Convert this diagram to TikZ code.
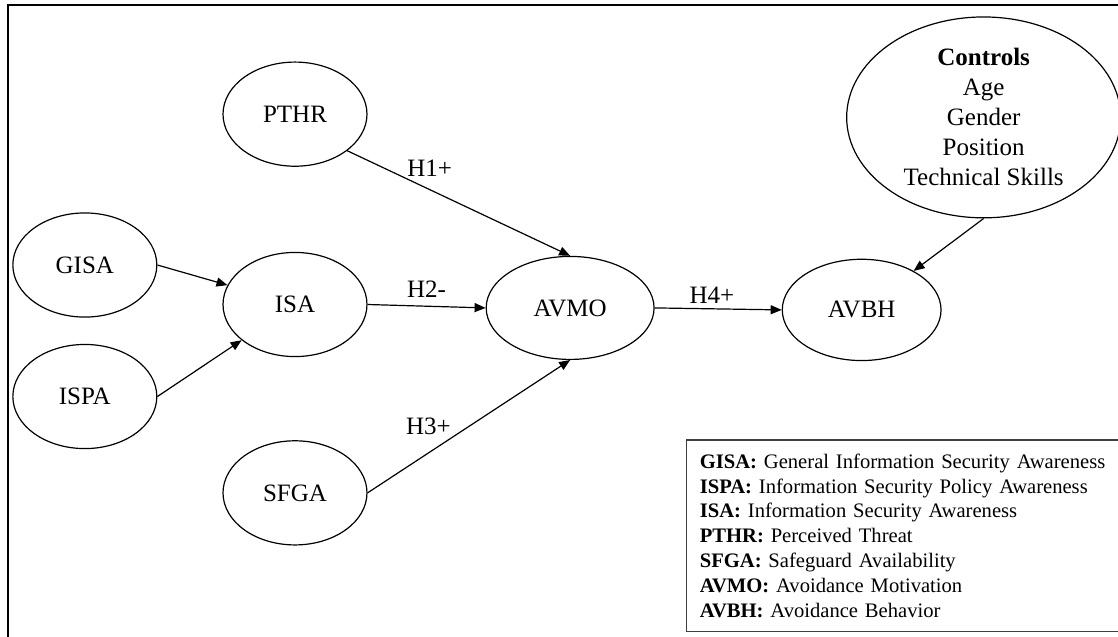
\documentclass[tikz,border=0pt]{standalone}
\usepackage{fontspec}
\setmainfont{Liberation Serif}
\usetikzlibrary{positioning, arrows.meta, shapes.geometric, calc}
\definecolor{cLine}{HTML}{000000}
\definecolor{cLegend}{HTML}{404040}
\tikzset{
  construct/.style={
    draw=cLine, ellipse, line width=0.6pt,
    minimum width=2.53cm, minimum height=1.83cm, inner sep=0pt,
    font=\fontsize{12.5}{15}\selectfont
  },
  pathlink/.style={
    -{Triangle[length=5.5pt, width=4.5pt]}, line width=0.6pt, color=cLine
  },
  hyplabel/.style={
    font=\fontsize{12.5}{15}\selectfont, inner sep=3pt, text=black
  },
  legendbox/.style={
    draw=cLegend, line width=0.75pt, anchor=north west,
    text width=7.5cm, inner xsep=0.23cm, minimum height=3.37cm,
    align=left, font=\fontsize{10.3}{12.4}\selectfont
  },
}

\begin{document}
\begin{tikzpicture}
\useasboundingbox (0,0) rectangle (19.647,-11.177);
\clip (0,0) rectangle (19.647,-11.177);

% ---- outer frame ----
\draw[line width=1pt] (0.141,-0.088) rectangle (20.5,-12);

% ---- main chain ----
\node[construct] (isa) at (5.184,-5.351) {ISA};
\node[construct, minimum width=2.95cm, minimum height=1.81cm,
      right=2.074cm of isa, yshift=-0.06cm] (avmo) {AVMO};
\node[construct, minimum width=2.79cm, minimum height=1.78cm,
      right=2.232cm of avmo, yshift=-0.035cm] (avbh) {AVBH};

% ---- antecedents ----
\node[construct, above=1.494cm of isa] (pthr) {PTHR};
\node[construct, below=1.459cm of isa] (sfga) {SFGA};
\node[construct, left=1.142cm of isa, yshift=0.694cm] (gisa) {GISA};
\node[construct, left=1.142cm of isa, yshift=-1.617cm] (ispa) {ISPA};

% ---- controls ----
\node[construct, minimum width=4.815cm, minimum height=3.53cm, align=center]
  (ctrl) at ($(avbh)+(2.144,3.383)$)
  {\textbf{Controls}\\Age\\Gender\\Position\\Technical Skills};

% ---- paths ----
\draw[pathlink] (gisa.east) -- (isa);
\draw[pathlink] (ispa.east) -- (isa);
\draw[pathlink] (pthr.-35) -- (avmo.north)
  node[hyplabel, pos=0.37, above=3.3pt] (h1) {H1+};
\draw[pathlink] (isa.east) -- (avmo.west)
  node[hyplabel, midway, above=1pt] (h2) {H2-};
\draw[pathlink] (sfga.east) -- (avmo.south)
  node[hyplabel, pos=0.3, above=6pt] (h3) {H3+};
\draw[pathlink] (avmo.east) -- (avbh.west)
  node[hyplabel, pos=0.45, above=-0.5pt] (h4) {H4+};
\draw[pathlink] (ctrl.south) -- (avbh);

% ---- legend ----
\node[legendbox] (legend) at (12.055,-7.715) {%
  \textbf{GISA:} General Information Security Awareness\\
  \textbf{ISPA:} Information Security Policy Awareness\\
  \textbf{ISA:} Information Security Awareness\\
  \textbf{PTHR:} Perceived Threat\\
  \textbf{SFGA:} Safeguard Availability\\
  \textbf{AVMO:} Avoidance Motivation\\
  \textbf{AVBH:} Avoidance Behavior};

\end{tikzpicture}
\end{document}
